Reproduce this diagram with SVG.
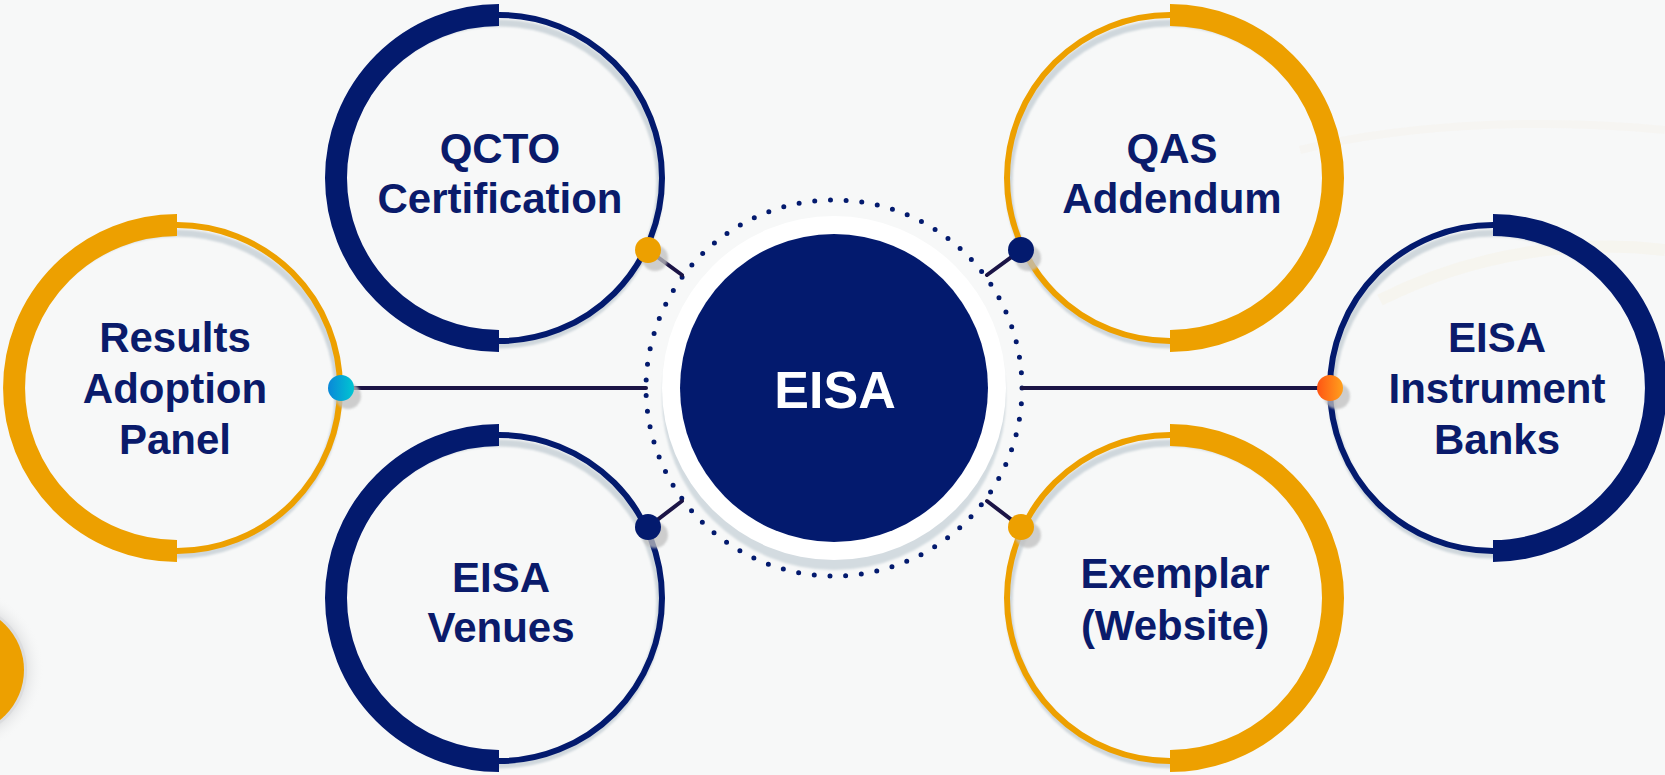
<svg xmlns="http://www.w3.org/2000/svg" width="1665" height="775" viewBox="0 0 1665 775">
  <defs>
    <style>
      .label { font-family: "Liberation Sans", Arial, sans-serif; font-weight: bold; font-size: 42px; fill: #0a1b6b; text-anchor: middle; }
      .hub-label { font-family: "Liberation Sans", Arial, sans-serif; font-weight: bold; font-size: 52px; fill: #ffffff; text-anchor: middle; }
      .ring-shadow { fill: none; stroke: #cfd7dc; stroke-width: 7; }
      .thin-navy { fill: none; stroke: #031a6e; stroke-width: 6; }
      .thin-orange { fill: none; stroke: #eda000; stroke-width: 6; }
      .thick-navy { fill: none; stroke: #031a6e; stroke-width: 22; stroke-linecap: butt; }
      .thick-orange { fill: none; stroke: #eda000; stroke-width: 22; stroke-linecap: butt; }
      .link { stroke: #1b1446; stroke-width: 4; stroke-linecap: round; fill: none; }
      .pin-shadow { fill: #bfbfbf; opacity: 0.75; }
    </style>
    <linearGradient id="pinCyan" x1="0" y1="0" x2="1" y2="0">
      <stop offset="0" stop-color="#0a88d8"/>
      <stop offset="1" stop-color="#00c6d2"/>
    </linearGradient>
    <linearGradient id="pinFlame" x1="0" y1="0" x2="1" y2="0">
      <stop offset="0" stop-color="#ff5514"/>
      <stop offset="1" stop-color="#ffa01c"/>
    </linearGradient>
    <radialGradient id="cornerShade" cx="-40" cy="670" r="84" gradientUnits="userSpaceOnUse">
      <stop offset="0.78" stop-color="#e3e4e5"/>
      <stop offset="1" stop-color="#f7f8f8" stop-opacity="0"/>
    </radialGradient>
    <filter id="soft" x="-10%" y="-10%" width="120%" height="120%">
      <feGaussianBlur stdDeviation="1.2"/>
    </filter>
  </defs>

  <!-- backdrop -->
  <rect x="0" y="0" width="1665" height="775" fill="#f7f8f8"/>
  <path d="M1380 300 C1480 250 1580 240 1665 250" stroke="#f4eddc" stroke-width="12" fill="none" opacity="0.3"/>
  <path d="M1300 150 C1420 120 1560 120 1665 130" stroke="#f4eddc" stroke-width="8" fill="none" opacity="0.2"/>
  <circle cx="-40" cy="670" r="84" fill="url(#cornerShade)"/>

  <!-- decorative disc at the lower-left edge -->
  <g id="corner-disc">
    <circle cx="-40" cy="670" r="67" fill="#dcdddf"/>
    <circle cx="-40" cy="670" r="64" fill="#eda000"/>
  </g>

  <!-- QCTO Certification -->
  <g id="node-qcto">
    <circle class="ring-shadow" cx="499" cy="184" r="161" filter="url(#soft)"/>
    <circle class="thin-navy" cx="499" cy="178" r="163"/>
    <path class="thick-navy" d="M499 15 A163 163 0 0 0 499 341"/>
    <text class="label" x="500" y="163">QCTO</text>
    <text class="label" x="500" y="213">Certification</text>
  </g>

  <!-- Results Adoption Panel -->
  <g id="node-results">
    <circle class="ring-shadow" cx="177" cy="394" r="161" filter="url(#soft)"/>
    <circle class="thin-orange" cx="177" cy="388" r="163"/>
    <path class="thick-orange" d="M177 225 A163 163 0 0 0 177 551"/>
    <text class="label" x="175" y="352">Results</text>
    <text class="label" x="175" y="403">Adoption</text>
    <text class="label" x="175" y="454">Panel</text>
  </g>

  <!-- EISA Venues -->
  <g id="node-venues">
    <circle class="ring-shadow" cx="499" cy="604" r="161" filter="url(#soft)"/>
    <circle class="thin-navy" cx="499" cy="598" r="163"/>
    <path class="thick-navy" d="M499 435 A163 163 0 0 0 499 761"/>
    <text class="label" x="501" y="592">EISA</text>
    <text class="label" x="501" y="642">Venues</text>
  </g>

  <!-- QAS Addendum -->
  <g id="node-qas">
    <circle class="ring-shadow" cx="1170" cy="184" r="161" filter="url(#soft)"/>
    <circle class="thin-orange" cx="1170" cy="178" r="163"/>
    <path class="thick-orange" d="M1170 15 A163 163 0 0 1 1170 341"/>
    <text class="label" x="1172" y="163">QAS</text>
    <text class="label" x="1172" y="213">Addendum</text>
  </g>

  <!-- EISA Instrument Banks -->
  <g id="node-banks">
    <circle class="ring-shadow" cx="1493" cy="394" r="161" filter="url(#soft)"/>
    <circle class="thin-navy" cx="1493" cy="388" r="163"/>
    <path class="thick-navy" d="M1493 225 A163 163 0 0 1 1493 551"/>
    <text class="label" x="1497" y="352">EISA</text>
    <text class="label" x="1497" y="403">Instrument</text>
    <text class="label" x="1497" y="454">Banks</text>
  </g>

  <!-- Exemplar (Website) -->
  <g id="node-exemplar">
    <circle class="ring-shadow" cx="1170" cy="604" r="161" filter="url(#soft)"/>
    <circle class="thin-orange" cx="1170" cy="598" r="163"/>
    <path class="thick-orange" d="M1170 435 A163 163 0 0 1 1170 761"/>
    <text class="label" x="1175" y="588">Exemplar</text>
    <text class="label" x="1175" y="640">(Website)</text>
  </g>

  <!-- central hub -->
  <g id="node-eisa">
    <circle cx="834" cy="398" r="172" fill="#d3dbe0" filter="url(#soft)"/>
    <circle cx="834" cy="388" r="172" fill="#ffffff"/>
    <circle cx="834" cy="388" r="188" fill="none" stroke="#031a6e" stroke-width="5" stroke-linecap="round" stroke-dasharray="0 15.75"/>
    <circle cx="834" cy="388" r="154" fill="#031a6e"/>
    <text class="hub-label" x="835" y="408">EISA</text>
  </g>

  <!-- connectors with their end pins -->
  <g id="connectors">
    <line class="link" x1="341" y1="388" x2="646" y2="388"/>
    <line class="link" x1="1022" y1="388" x2="1330" y2="388"/>
    <line class="link" x1="648" y1="250" x2="682" y2="275"/>
    <line class="link" x1="648" y1="527" x2="682" y2="501"/>
    <line class="link" x1="1021" y1="250" x2="987" y2="275"/>
    <line class="link" x1="1021" y1="527" x2="987" y2="501"/>

    <circle class="pin-shadow" cx="348" cy="396" r="13" filter="url(#soft)"/>
    <circle cx="341" cy="388" r="13" fill="url(#pinCyan)"/>

    <circle class="pin-shadow" cx="1337" cy="396" r="13" filter="url(#soft)"/>
    <circle cx="1330" cy="388" r="13" fill="url(#pinFlame)"/>

    <circle class="pin-shadow" cx="655" cy="258" r="13" filter="url(#soft)"/>
    <circle cx="648" cy="250" r="13" fill="#eda000"/>

    <circle class="pin-shadow" cx="655" cy="535" r="13" filter="url(#soft)"/>
    <circle cx="648" cy="527" r="13" fill="#031a6e"/>

    <circle class="pin-shadow" cx="1028" cy="258" r="13" filter="url(#soft)"/>
    <circle cx="1021" cy="250" r="13" fill="#031a6e"/>

    <circle class="pin-shadow" cx="1028" cy="535" r="13" filter="url(#soft)"/>
    <circle cx="1021" cy="527" r="13" fill="#eda000"/>
  </g>
</svg>
